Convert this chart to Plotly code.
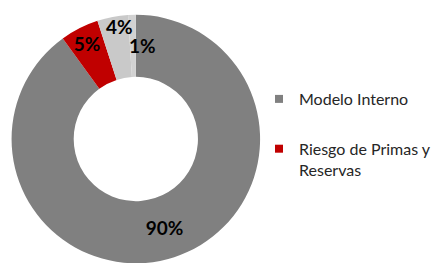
import plotly.graph_objects as go

labels = ["Modelo Interno", "Riesgo de Primas y<br>Reservas", "Otros riesgos", "Otros"]
values = [90, 5, 4, 1]
colors = ["#808080", "#C00000", "#C9C9C9", "#D2D2D2"]
legend_labels = ["Modelo Interno", "Riesgo de Primas y<br>Reservas"]
legend_colors = ["#808080", "#C00000"]
pct_labels = [f"{v}%" for v in values]

W, H, T = 436, 268, 10
label_font = dict(family="Lato", size=19, color="black", weight=700)

fig = go.Figure()
fig.add_trace(go.Pie(
    labels=labels, values=values, sort=False, direction="clockwise", rotation=0,
    hole=0.5, marker=dict(colors=colors, line=dict(width=0)),
    text=[pct_labels[0], pct_labels[1], "", ""], texttemplate="%{text}",
    textposition="inside", insidetextorientation="horizontal",
    textfont=label_font,
    showlegend=False, domain=dict(x=[12/W, 270/W], y=[0, 1]),
    hoverinfo="skip",
))
# small-slice labels placed like the reference
fig.add_annotation(x=124/W, y=1-(26-T)/(H-T), xref="paper", yref="paper",
                   xanchor="center", yanchor="middle",
                   text=pct_labels[2], showarrow=False, font=label_font)
fig.add_annotation(x=148/W, y=1-(45-T)/(H-T), xref="paper", yref="paper",
                   xanchor="center", yanchor="middle",
                   text=pct_labels[3], showarrow=False, font=label_font)

for name, c in zip(legend_labels, legend_colors):
    fig.add_trace(go.Scatter(
        x=[None], y=[None], mode="markers", name=name,
        marker=dict(symbol="square", size=8, color=c),
        legendgroup=name,
    ))

fig.update_layout(
    width=W, height=H, autosize=False,
    margin=dict(l=0, r=0, t=T, b=0),
    paper_bgcolor="white", plot_bgcolor="white",
    xaxis=dict(visible=False), yaxis=dict(visible=False),
    uniformtext=dict(minsize=19, mode="show"),
    legend=dict(x=269/W, y=1-(82-T)/(H-T), xanchor="left", yanchor="top",
                font=dict(family="Lato", size=16, color="#262626"),
                traceorder="grouped", tracegroupgap=26, valign="top",
                itemwidth=30, bgcolor="rgba(0,0,0,0)"),
)
fig.write_html("out.html", config={"displayModeBar": False},
               post_script="document.body.style.margin='0';document.body.style.overflow='hidden';")
